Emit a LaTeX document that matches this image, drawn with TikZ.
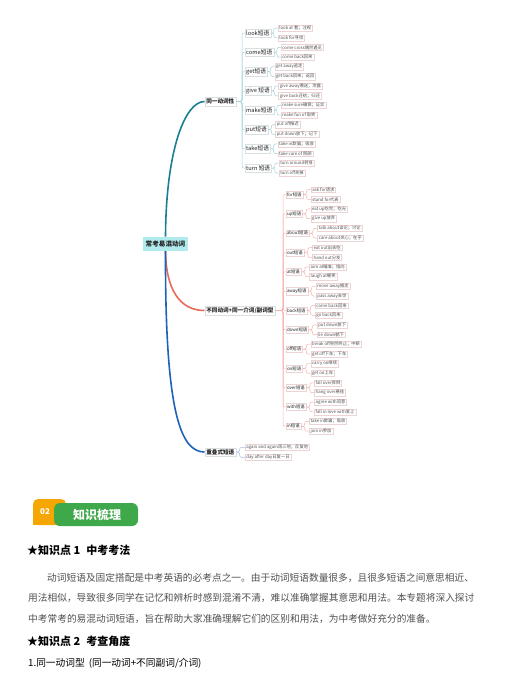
\documentclass[tikz,border=0pt]{standalone}
\usepackage{fontspec}
\setmainfont{Noto Sans CJK SC}
\usetikzlibrary{positioning, calc}
\definecolor{textdark}{RGB}{34, 34, 34}
\definecolor{textgray}{RGB}{80, 80, 80}
\definecolor{rootcyan}{RGB}{178, 235, 238}
\definecolor{branchteal}{RGB}{27, 127, 148}
\definecolor{branchred}{RGB}{232, 106, 88}
\definecolor{branchblue}{RGB}{30, 99, 184}
\definecolor{twigteal}{RGB}{160, 210, 218}
\definecolor{twigred}{RGB}{244, 178, 170}
\definecolor{twigblue}{RGB}{165, 192, 228}
\definecolor{boxline}{RGB}{216, 224, 228}
\definecolor{leafline}{RGB}{236, 212, 212}
\definecolor{badgeorange}{RGB}{246, 166, 0}
\definecolor{badgegreen}{RGB}{62, 168, 74}
\XeTeXlinebreaklocale "zh"
\XeTeXlinebreakskip=0pt plus 3pt
\newcommand{\mapfont}[1]{\fontsize{#1}{#1}\selectfont}

\begin{document}
\begin{tikzpicture}[x=1pt, y=-1pt,
    rootbox/.style={fill=rootcyan, inner xsep=2.5pt, minimum height=14pt, font=\bfseries\mapfont{6.6}, text=textdark},
    mainbox/.style={draw=boxline, fill=white, line width=0.4pt, inner sep=1.6pt, font=\bfseries\mapfont{5.6}, text=textdark},
    verbbox/.style={draw=boxline, fill=white, line width=0.4pt, inner sep=1.5pt, font=\mapfont{5.7}, text=textdark},
    prepbox/.style={verbbox, draw=leafline, inner sep=1.3pt, font=\mapfont{4.4}},
    leafbox/.style={draw=leafline, fill=white, line width=0.35pt, inner xsep=1.2pt, inner ysep=0.9pt, font=\mapfont{4.3}, text=textgray},
    bigbranch/.style={line width=1.6pt},
    twig/.style={line width=0.5pt, rounded corners=2pt},
    heading/.style={inner sep=0pt, anchor=west, font=\bfseries\mapfont{11}, text=black},
    bodytext/.style={inner sep=0pt, anchor=west, font=\mapfont{9.7}, text=textgray}]
    \useasboundingbox (0,0) rectangle (514,689);

    % Root and main branches
    \node[rootbox] (root) at (165.5,243.8) {常考易混动词};
    \node[mainbox, anchor=west] (same) at (204.5,101.5) {同一动词性};
    \node[mainbox, anchor=west] (diff) at (204.5,310.5) {不同动词+同一介词/副词型};
    \node[mainbox, anchor=west] (redup) at (204.5,452) {重叠式短语};
    \draw[bigbranch, branchteal] (root.north) .. controls (166,150) and (185,101.5) .. (same.west);
    \draw[bigbranch, branchred] (root.south) .. controls (166,290) and (180,310.5) .. (diff.west);
    \draw[bigbranch, branchblue] (root.south) .. controls (165,410) and (180,452) .. (redup.west);

    % Same verb phrases
    \coordinate (trunkA) at (242,101.5);
    \foreach \y/\nm/\head/\la/\lb in {33/look/look短语/look at 看；注视/look for寻找,
        52.3/come/come短语/come cross偶然遇见/come back回来,
        71.6/get/get短语/get away逃走/get back回来；返回,
        90.9/give/give 短语/give away赠送；泄露/give back还给；归还,
        110.2/make/make短语/make sure确保；证实/make fun of 取笑,
        129.5/put/put短语/put off推迟/put down放下；记下,
        148.8/take/take短语/take in欺骗；吸收/take care of 照顾,
        168.1/turn/turn 短语/turn around转身/turn off关掉}{
        \node[verbbox, anchor=west] (v\nm) at (244.5,\y) {\head};
        \node[leafbox, anchor=west] (v\nm-a) at ([xshift=7pt, yshift=4.9pt]v\nm.east) {\la};
        \node[leafbox, anchor=west] (v\nm-b) at ([xshift=7pt, yshift=-4.9pt]v\nm.east) {\lb};
        \draw[twig, twigteal] (same.east) -- (trunkA) |- (v\nm.west);
        \draw[twig, twigteal] (v\nm.east) -- ++(3pt,0) |- (v\nm-a.west);
        \draw[twig, twigteal] (v\nm.east) -- ++(3pt,0) |- (v\nm-b.west);
    }

    % Same particle phrases
    \coordinate (trunkB) at (283,310.5);
    \foreach \y/\nm/\head/\la/\lb in {194.5/for/for短语/ask for请求/stand for代表,
        213.8/up/up短语/eat up吃完；吃光/give up放弃,
        233.2/about/about短语/talk about谈论；讨论/care about关心；在乎,
        252.5/out/out短语/eat out出去吃/hand out分发,
        271.8/at/at短语/aim at瞄准；指向/laugh at嘲笑,
        291.1/away/away短语/move away搬走/pass away去世,
        310.5/back/back短语/come back回来/go back回来,
        329.8/down/down短语/put down放下/lie down躺下,
        349.1/off/off短语/break off突然终止；中断/get off下车；下车,
        368.4/on/on短语/carry on继续/get on上车,
        387.7/over/over短语/fall over摔倒/hang over悬挂,
        407/with/with短语/agree with同意/fall in love with爱上,
        426.3/in/in短语/take in欺骗；吸收/join in参加}{
        \node[prepbox, anchor=west] (p\nm) at (285.5,\y) {\head};
        \node[leafbox, anchor=west] (p\nm-a) at ([xshift=8pt, yshift=4.9pt]p\nm.east) {\la};
        \node[leafbox, anchor=west] (p\nm-b) at ([xshift=8pt, yshift=-4.9pt]p\nm.east) {\lb};
        \draw[twig, twigred] (diff.east) -- (trunkB) |- (p\nm.west);
        \draw[twig, twigred] (p\nm.east) -- ++(3.5pt,0) |- (p\nm-a.west);
        \draw[twig, twigred] (p\nm.east) -- ++(3.5pt,0) |- (p\nm-b.west);
    }

    % Repeated phrases
    \node[leafbox, anchor=west] (again) at (245,447.3) {again and again再三地；反复地};
    \node[leafbox, anchor=west] (daily) at (245,457.3) {day after day日复一日};
    \draw[twig, twigblue] (redup.east) -- ++(3.5pt,0) |- (again.west);
    \draw[twig, twigblue] (redup.east) -- ++(3.5pt,0) |- (daily.west);

    % Section badge
    \fill[badgeorange, rounded corners=5pt] (33,499) rectangle (66,525);
    \fill[badgeorange] (33,515) rectangle (40,525);
    \fill[badgegreen, rounded corners=6pt] (54,503) rectangle (138,526);
    \node[font=\bfseries\mapfont{8}, text=white] (badgenum) at (45,512) {02};
    \node[font=\bfseries\mapfont{12}, text=white] (badgetitle) at (97,514.5) {知识梳理};

    % Knowledge points
    \node[heading] (point1) at (27,550) {★知识点 1\hspace{6pt}中考考法};
    \node[bodytext] (para1) at (47,577.5) {\hbox to 436pt{动词短语及固定搭配是中考英语的必考点之一。由于动词短语数量很多，且很多短语之间意思相近、}};
    \node[bodytext] (para2) at (28,597.8) {\hbox to 455pt{用法相似，导致很多同学在记忆和辨析时感到混淆不清，难以准确掌握其意思和用法。本专题将深入探讨}};
    \node[bodytext] (para3) at (28,619) {中考常考的易混动词短语，旨在帮助大家准确理解它们的区别和用法，为中考做好充分的准备。};
    \node[heading] (point2) at (27,641.5) {★知识点 2\hspace{6pt}考查角度};
    \node[bodytext, text=black] (item1) at (28,663) {1.同一动词型\hspace{4pt}(同一动词+不同副词/介词)};
\end{tikzpicture}
\end{document}
